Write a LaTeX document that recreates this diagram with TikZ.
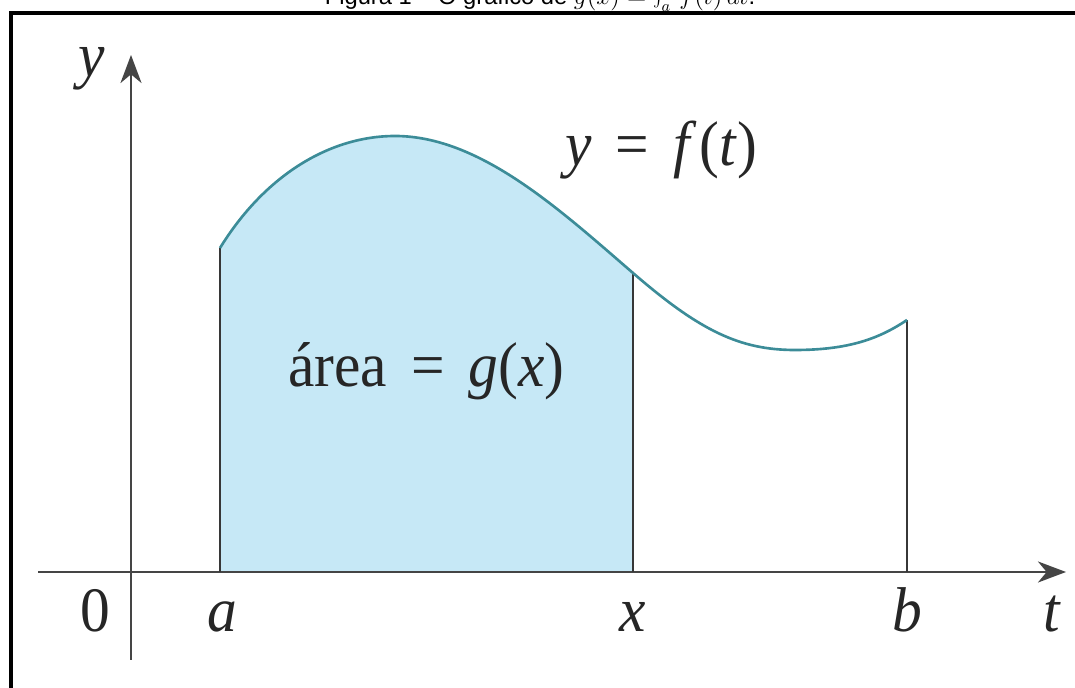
\documentclass[tikz,border=0pt]{standalone}
\usepackage{fontspec}
\setmainfont{Liberation Serif}
\newfontfamily\capfont{Liberation Sans}
\usetikzlibrary{arrows.meta}
\definecolor{curvecol}{HTML}{3C8C98}
\definecolor{fillcol}{HTML}{C6E8F6}
\definecolor{axiscol}{HTML}{454545}
\newcommand{\eqsp}{\hspace{14.5pt}=\hspace{14.5pt}}
\newcommand{\sq}[1]{\scalebox{0.94}[1]{#1}}
\tikzset{
  axisline/.style={draw=axiscol, line width=1.2pt, -{Stealth[length=16pt,width=12pt,inset=5pt]}},
  vline/.style={draw=axiscol!80!black, line width=1.2pt},
  fline/.style={draw=curvecol, line width=1.5pt},
  lbl/.style={font=\fontsize{36}{42}\selectfont, inner sep=0pt, text=black!85},
  frameline/.style={draw=black, line width=2.3pt},
}
\begin{document}
\begin{tikzpicture}[x=0.02cm, y=-0.02cm]
\useasboundingbox (0,0) rectangle (1075,688);
\clip (0,0) rectangle (1075,688);
% caption (top half cut off)
\node[anchor=base, inner sep=0pt, font=\capfont\fontsize{13.5}{15}\selectfont] (cap) at (540,5)
  {Figura 1 – O gráfico de $g(x)=\int_a^x f(t)\,dt$.};
% frame
\coordinate (fbl) at (11,720);
\coordinate (ftl) at (11,13);
\coordinate (ftr) at (1100,13);
\draw[frameline] (fbl) -- (ftl) -- (ftr);
% key points
\coordinate (A0) at (220,572);
\coordinate (A1) at (220,248);
\coordinate (P)  at (395,136);
\coordinate (X1) at (633,273);
\coordinate (X0) at (633,572);
\coordinate (M)  at (795,350);
\coordinate (B1) at (907,320);
\coordinate (B0) at (907,572);
% filled area
\fill[fillcol] (A0) -- (A1) .. controls (265,175) and (330,136) .. (P)
  .. controls (480,136) and (560,210) .. (X1) -- (X0) -- cycle;
% axes
\coordinate (xs) at (38,572);
\coordinate (xe) at (1066,572);
\coordinate (ys) at (131,660);
\coordinate (ye) at (131,55);
\draw[axisline] (xs) -- (xe);
\draw[axisline] (ys) -- (ye);
% vertical lines
\draw[vline] (A0) -- (A1);
\draw[vline] (X0) -- (X1);
\draw[vline] (B0) -- (B1);
% curve
\draw[fline] (A1) .. controls (265,175) and (330,136) .. (P)
  .. controls (480,136) and (560,210) .. (X1)
  .. controls (700,331) and (740,350) .. (M)
  .. controls (850,350) and (880,338) .. (B1);
% labels
\node[lbl, anchor=base] (l0) at (95,632) {\sq{0}};
\node[lbl, anchor=base] (la) at (222,632) {\sq{\textit{a}}};
\node[lbl, anchor=base] (lx) at (633,632) {\sq{\textit{x}}};
\node[lbl, anchor=base] (lb) at (907,632) {\sq{\textit{b}}};
\node[lbl, anchor=base] (lt) at (1052,632) {\sq{\textit{t}}};
\node[lbl, anchor=base] (ly) at (92,77) {\sq{\textit{y}}};
\node[lbl, anchor=base west] (lf) at (565,166) {\sq{\textit{y}\eqsp\textit{f}\kern2pt(\textit{t})}};
\node[lbl, anchor=base west] (lg) at (288,387) {\sq{área\eqsp\textit{g}(\textit{x})}};
\end{tikzpicture}
\end{document}
